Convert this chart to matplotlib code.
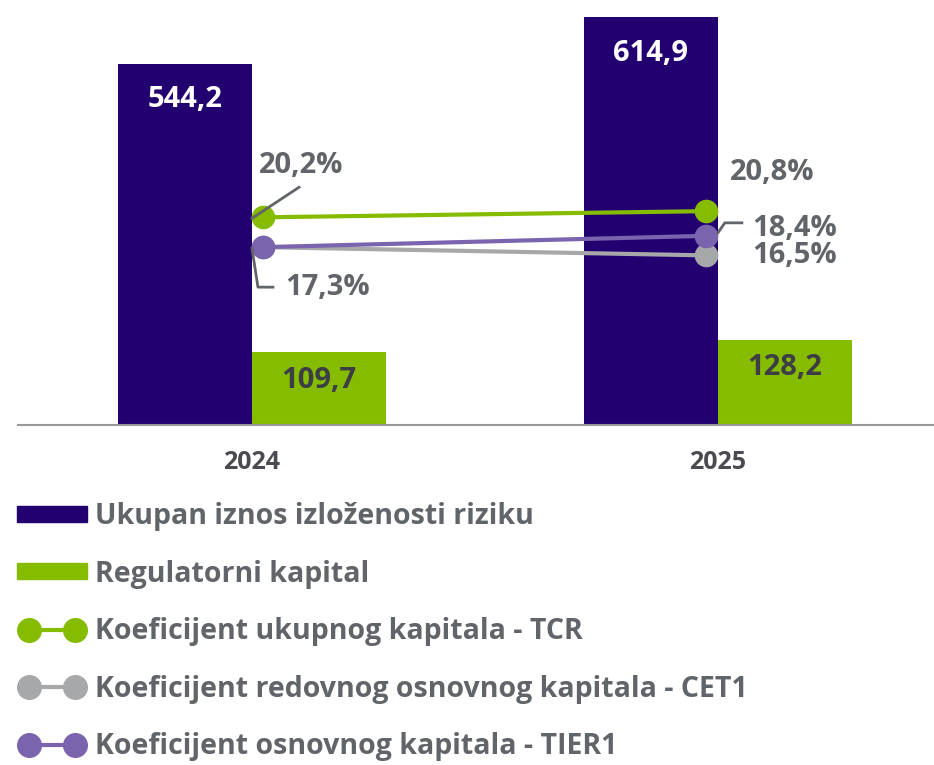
import numpy as np
import matplotlib.pyplot as plt
from matplotlib.patches import Patch
from matplotlib.lines import Line2D
from matplotlib.legend_handler import HandlerLine2D

plt.rcParams['font.family'] = ['Open Sans', 'DejaVu Sans']

years = ['2024', '2025']
exposure = [544.2, 614.9]
reg_capital = [109.7, 128.2]
tcr = [20.2, 20.8]
cet1 = [17.3, 16.5]
tier1 = [17.3, 18.4]

c_navy = '#230070'
c_green = '#86bc00'
c_grey = '#a7a8aa'
c_purple = '#7b64ae'
c_text = '#616469'

fig = plt.figure(figsize=(9.34, 7.65), dpi=100)
ax = fig.add_axes([18/934, 1-425/765, 916/934, 425/765])
x = np.arange(len(years))
w = 0.2875
b1 = ax.bar(x - w/2, exposure, w, color=c_navy)
b2 = ax.bar(x + w/2, reg_capital, w, color=c_green)
ax.set_ylim(0, 640.6)
ax.set_xlim(-0.502, 1.4635)
for s in ['top', 'right', 'left']:
    ax.spines[s].set_visible(False)
ax.spines['bottom'].set_color('#999999')
ax.spines['bottom'].set_linewidth(1.5)
ax.set_yticks([])
ax.set_xticks(x)
ax.set_xticklabels(years, fontsize=18, fontweight='bold', color='#4a4b50')
ax.tick_params(axis='x', length=0, pad=18)

for i in range(len(years)):
    ax.annotate(f'{exposure[i]:.1f}'.replace('.', ','), (x[i] - w/2, exposure[i]),
                xytext=(0, -36), textcoords='offset pixels', ha='center', va='center',
                fontsize=21, fontweight='bold', color='white')
    ax.annotate(f'{reg_capital[i]:.1f}'.replace('.', ','), (x[i] + w/2, reg_capital[i]),
                xytext=(0, -28), textcoords='offset pixels', ha='center', va='center',
                fontsize=21, fontweight='bold', color='#3d3d45')

# ratios on a second axis
ax2 = ax.twinx()
ax2.set_ylim(0, 41.34)
ax2.axis('off')
px = [0.0236, 0.974]
ax2.plot(px, cet1, color=c_grey, lw=3, marker='o', ms=16)
ax2.plot(px, tier1, color=c_purple, lw=3, marker='o', ms=16)
ax2.plot(px, tcr, color=c_green, lw=3, marker='o', ms=16)

def pct(v):
    return f'{v:.1f}%'.replace('.', ',')

lbl = dict(textcoords='offset pixels', va='center', fontsize=21, fontweight='bold', color=c_text)
ax2.annotate(pct(tcr[0]), (px[0], tcr[0]), xytext=(38, 52), ha='center', **lbl)
ax2.annotate(pct(tier1[0]), (px[0], tier1[0]), xytext=(22, -40), ha='left', **lbl)
ax2.annotate(pct(tcr[1]), (px[1], tcr[1]), xytext=(24, 39), ha='left', **lbl)
ax2.annotate(pct(tier1[1]), (px[1], tier1[1]), xytext=(46, 7), ha='left', **lbl)
ax2.annotate(pct(cet1[1]), (px[1], cet1[1]), xytext=(46, 0), ha='left', **lbl)

# leader lines, pixel offsets from the point
def leader(xv, yv, offs):
    fig.canvas.draw()
    x0, y0 = ax2.transData.transform((xv, yv))
    xs = [x0 + o[0] for o in offs]
    ys = [y0 + o[1] for o in offs]
    fig.add_artist(Line2D(xs, ys, transform=None, color=c_text, lw=2))

leader(px[0], tcr[0], [(-11, -1), (36, 30)])
leader(px[0], tier1[0], [(-11, -1), (-5, -40), (10, -40)])
leader(px[1], tier1[1], [(12, 3), (19, 13), (36, 13)])

handles = [Patch(color=c_navy), Patch(color=c_green),
           Line2D([0], [0], color=c_green, lw=3, marker='o', ms=17),
           Line2D([0], [0], color=c_grey, lw=3, marker='o', ms=17),
           Line2D([0], [0], color=c_purple, lw=3, marker='o', ms=17)]
labels = ['Ukupan iznos izloženosti riziku', 'Regulatorni kapital',
          'Koeficijent ukupnog kapitala - TCR',
          'Koeficijent redovnog osnovnog kapitala - CET1',
          'Koeficijent osnovnog kapitala - TIER1']
leg = fig.legend(handles, labels, loc='upper left', bbox_to_anchor=(0.0, 1-485/765),
                 frameon=False, fontsize=20.5, numpoints=2, handlelength=2.45,
                 handleheight=0.49, handletextpad=0.3, labelspacing=1.0, borderaxespad=0,
                 borderpad=0.6, handler_map={Line2D: HandlerLine2D(marker_pad=0.42)})
for t in leg.get_texts():
    t.set_color(c_text)
    t.set_fontweight('bold')

fig.savefig('out.png', dpi=100)
